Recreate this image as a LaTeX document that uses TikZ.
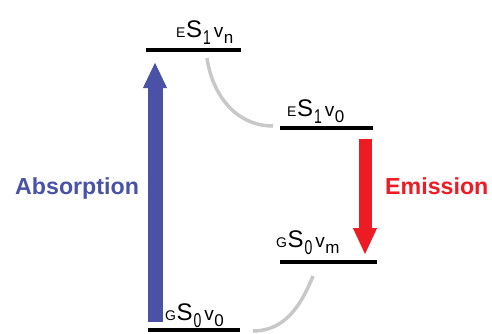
\documentclass[tikz,border=0pt]{standalone}
\usepackage{fontspec}
\setmainfont{Liberation Sans}
\usetikzlibrary{arrows.meta}
\definecolor{absblue}{RGB}{74,82,166}
\definecolor{emred}{RGB}{237,28,36}
\definecolor{curvegrey}{RGB}{200,200,200}
\newcommand{\stlabel}[3]{{\fontsize{14}{14}\selectfont #1}\kern0.5pt{\fontsize{24}{24}\selectfont S}\kern1pt\raisebox{-7pt}{\scalebox{0.7}[1]{\fontsize{20}{20}\selectfont #2}}\kern3pt{\fontsize{19}{19}\selectfont v}\kern0.5pt\raisebox{-6pt}{\fontsize{17}{17}\selectfont #3}}
\tikzset{
  levelbar/.style={fill=black, inner sep=0pt, minimum height=4pt},
  statelbl/.style={anchor=base west, inner sep=0pt},
  relax/.style={draw=curvegrey, line width=3.5pt},
  bigword/.style={anchor=base west, inner sep=0pt, font=\fontsize{23.2}{23.2}\selectfont\bfseries},
}
\begin{document}
\begin{tikzpicture}[x=1pt,y=-1pt]
\useasboundingbox (0,0) rectangle (492,333);
% energy levels
\node[levelbar, minimum width=95pt] (top) at (193.5,50) {};
\node[levelbar, minimum width=93pt] (mid1) at (326.5,128) {};
\node[levelbar, minimum width=97pt] (mid2) at (328.5,262) {};
\node[levelbar, minimum width=92pt] (bot) at (194,330) {};
% labels
\node[statelbl] (ltop) at (176,37) {\stlabel{E}{1}{n}};
\node[statelbl] (lmid1) at (287,116) {\stlabel{E}{1}{0}};
\node[statelbl] (lmid2) at (276,247) {\stlabel{G}{0}{m}};
\node[statelbl] (lbot) at (165,320) {\stlabel{G}{0}{0}};
% relaxation curves
\coordinate (r1a) at (207,58);
\coordinate (r1b) at (273,126);
\coordinate (r2a) at (253,331);
\coordinate (r2b) at (313,276);
\draw[relax] (r1a) to[out=-82,in=180] (r1b);
\draw[relax] (r2a) to[out=0,in=-112] (r2b);
% arrows
\coordinate (a0) at (155,322);
\coordinate (a1) at (155,62);
\draw[absblue, line width=15pt, -{Triangle[width=22pt,length=26pt]}] (a0) -- (a1);
\coordinate (e0) at (365,139);
\coordinate (e1) at (365,255);
\draw[emred, line width=13pt, -{Triangle[width=22pt,length=27pt]}] (e0) -- (e1);
% words
\node[bigword, text=absblue] (absw) at (15,194) {Absorption};
\node[bigword, text=emred] (emw) at (385,194) {Emission};
\end{tikzpicture}
\end{document}
